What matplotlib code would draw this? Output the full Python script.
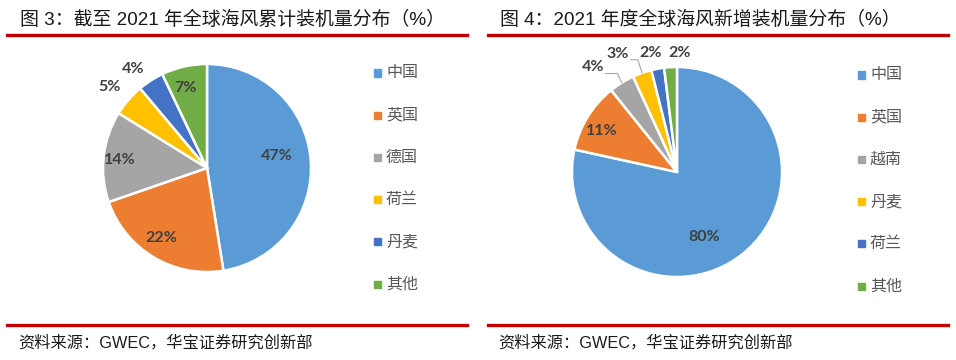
import numpy as np
import matplotlib
matplotlib.use('Agg')
import matplotlib.pyplot as plt
from matplotlib.lines import Line2D
from matplotlib.patches import Rectangle

plt.rcParams['font.family'] = ['Liberation Sans', 'Noto Sans CJK SC', 'DejaVu Sans']

# dados
titulo_1 = '图 3：截至 2021 年全球海风累计装机量分布（%）'
paises_1 = ['中国', '英国', '德国', '荷兰', '丹麦', '其他']
valores_1 = [47, 22, 14, 5, 4, 7]

titulo_2 = '图 4：2021 年度全球海风新增装机量分布（%）'
paises_2 = ['中国', '英国', '越南', '丹麦', '荷兰', '其他']
valores_2 = [80, 11, 4, 3, 2, 2]

fonte = '资料来源：GWEC，华宝证券研究创新部'

cores = ['#5B9BD5', '#ED7D31', '#A5A5A5', '#FFC000', '#4472C4', '#70AD47']

W, H = 956, 360
fig = plt.figure(figsize=(W / 100, H / 100), dpi=100)


def px_x(x):
    return x / W


def px_y(y):
    return 1 - y / H


def desenhar_pizza(cx, cy, r, valores, dist_rotulos, desvio_ang, linhas_guia):
    lado = 2.6 * r
    ax = fig.add_axes([px_x(cx - lado / 2), px_y(cy + lado / 2), lado / W, lado / H])
    wedges, _ = ax.pie(valores, colors=cores, startangle=90, counterclock=False,
                       wedgeprops=dict(edgecolor='white', linewidth=1.8))
    ax.set_xlim(-1.3, 1.3)
    ax.set_ylim(-1.3, 1.3)
    ax.axis('off')
    estilo = dict(ha='center', va='center', fontsize=11.5, fontweight='bold',
                  color='#404040', family=['Lato', 'DejaVu Sans'])
    for w, v, d, da, guia in zip(wedges, valores, dist_rotulos, desvio_ang, linhas_guia):
        meio = np.deg2rad((w.theta1 + w.theta2) / 2)
        ang = meio + np.deg2rad(da)
        lx, ly = d * np.cos(ang), d * np.sin(ang)
        ax.text(lx, ly, f'{v}%', **estilo)
        if guia:
            # linha guia: sai do rotulo na horizontal e desce ate a fatia
            ex, ey = np.cos(meio), np.sin(meio)
            yl = ly - 0.06
            ax.plot([lx + 0.12, ex - 0.04, ex], [yl, yl, ey],
                    color='#A6A6A6', lw=0.8, clip_on=False)
    return ax


def desenhar_legenda(x0, y0, nomes):
    for i, nome in enumerate(nomes):
        y = y0 + i * 42.2
        fig.add_artist(Rectangle((px_x(x0 - 3.5), px_y(y + 3.5)), 7 / W, 7 / H,
                                 color=cores[i], transform=fig.transFigure))
        fig.text(px_x(x0 + 9), px_y(y), nome, fontsize=11.5, color='#595959',
                 va='center', ha='left')


def moldura(x1, x2, titulo, tx):
    fig.text(px_x(tx), px_y(20), titulo, fontsize=13.6, color='#1a1a1a',
             va='center', ha='left')
    fig.add_artist(Line2D([px_x(x1), px_x(x2)], [px_y(35), px_y(35)],
                          color='#C00000', lw=2.4, transform=fig.transFigure))
    fig.add_artist(Line2D([px_x(x1), px_x(x2)], [px_y(325), px_y(325)],
                          color='#C00000', lw=2.4, transform=fig.transFigure))
    fig.text(px_x(tx - 2), px_y(343), fonte, fontsize=11.7, color='#1a1a1a',
             va='center', ha='left')


moldura(7, 467, titulo_1, 20)
moldura(488, 948, titulo_2, 500)

desenhar_pizza(207, 168, 104, valores_1,
               [0.68, 0.8, 0.84, 1.22, 1.19, 0.8],
               [5, -2, 1, 1, 4, 2],
               [False] * 6)
desenhar_pizza(677, 172, 105, valores_2,
               [0.67, 0.82, 1.28, 1.26, 1.16, 1.13],
               [-16, 3, 7, 7, 2, -5],
               [False, False, True, True, False, False])

desenhar_legenda(377, 73, paises_1)
desenhar_legenda(861, 75, paises_2)

fig.savefig('out.png', dpi=100)
